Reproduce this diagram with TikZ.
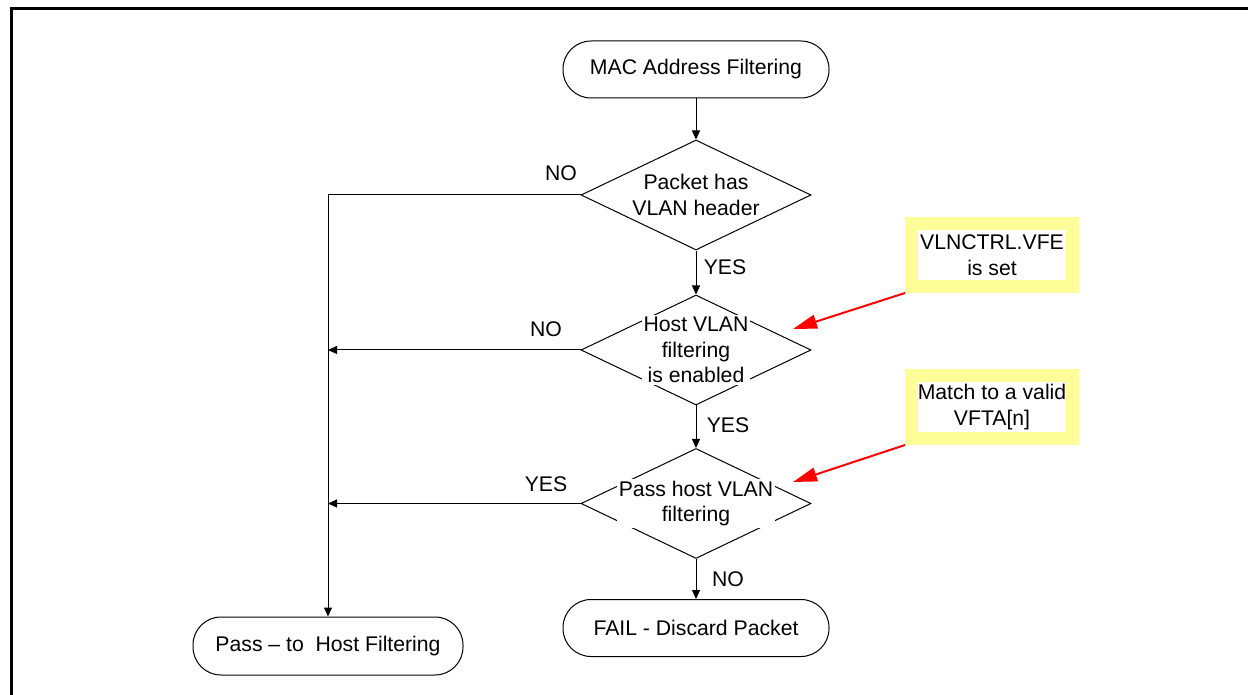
\documentclass[tikz,border=0pt]{standalone}
\usepackage{fontspec}
\setmainfont{Liberation Sans}
\usetikzlibrary{arrows.meta,shapes.geometric,calc}
\definecolor{noteYellow}{RGB}{255,255,153}
\definecolor{noteRed}{RGB}{255,0,0}

\begin{document}
\begin{tikzpicture}[x=0.5pt, y=-0.5pt, >={Triangle[length=4.5pt,width=4pt]},
    every node/.style={font=\fontsize{10.6pt}{12.75pt}\selectfont, align=center},
    terminal/.style={draw, line width=0.5pt, rounded corners=14pt, minimum width=133pt, minimum height=28.5pt},
    decision/.style={draw, diamond, line width=0.5pt, minimum width=115pt, minimum height=55pt, inner sep=0pt},
    dtext/.style={fill=white, inner sep=1pt},
    note/.style={draw=noteYellow, line width=6.5pt, minimum width=80.5pt, minimum height=31.5pt, inner sep=0pt},
    hint/.style={-{Triangle[length=12pt,width=7pt]}, noteRed, line width=1pt}]
      \useasboundingbox (0,0) rectangle (1248,695);
      % frame
      \draw[line width=1.5pt] (11,695) -- (11,9) -- (1248,9);
      % start and end boxes
      \node[terminal] (start) at (696,69.5) {MAC Address Filtering};
      \node[terminal] (fail) at (696,628) {FAIL - Discard Packet};
      \node[terminal, minimum width=135pt, minimum height=29pt] (pass) at (328,646) {Pass -- to\ \ Host Filtering};
      % decisions
      \node[decision] (hasvlan) at (696,195) {};
      \node[dtext] at (hasvlan) {Packet has\\VLAN header};
      \node[decision] (enabled) at (696,350) {};
      \node[dtext] at (enabled) {Host VLAN\\filtering\\is enabled};
      \node[decision] (passvlan) at (696,503.5) {};
      \node[dtext] at (passvlan) {Pass host VLAN\\filtering};
      % notes
      \node[note] (vfe) at (992,255) {VLNCTRL.VFE\\is set};
      \node[note] (vfta) at (992,407) {Match to a valid\\VFTA[n]};
      \coordinate (vfetip) at (793,329);
      \coordinate (vftatip) at (793,482);
      % main flow
      \draw[->, line width=0.5pt] (start) -- (hasvlan);
      \draw[->, line width=0.5pt] (hasvlan) -- (enabled);
      \draw[->, line width=0.5pt] (enabled) -- (passvlan);
      \draw[->, line width=0.5pt] (passvlan) -- (fail);
      \node at (725,267) {YES};
      \node at (728,425) {YES};
      \node at (728,579) {NO};
      % left branch
      \draw[->, line width=0.5pt] (hasvlan.west) -| (pass.north);
      \draw[->, line width=0.5pt] (enabled.west) -- (enabled.west -| pass.north);
      \draw[->, line width=0.5pt] (passvlan.west) -- (passvlan.west -| pass.north);
      \node at (561,173) {NO};
      \node at (546,329) {NO};
      \node at (546,484) {YES};
      % hints
      \draw[hint] (vfe.south west) -- (vfetip);
      \draw[hint] (vfta.south west) -- (vftatip);
\end{tikzpicture}
\end{document}
